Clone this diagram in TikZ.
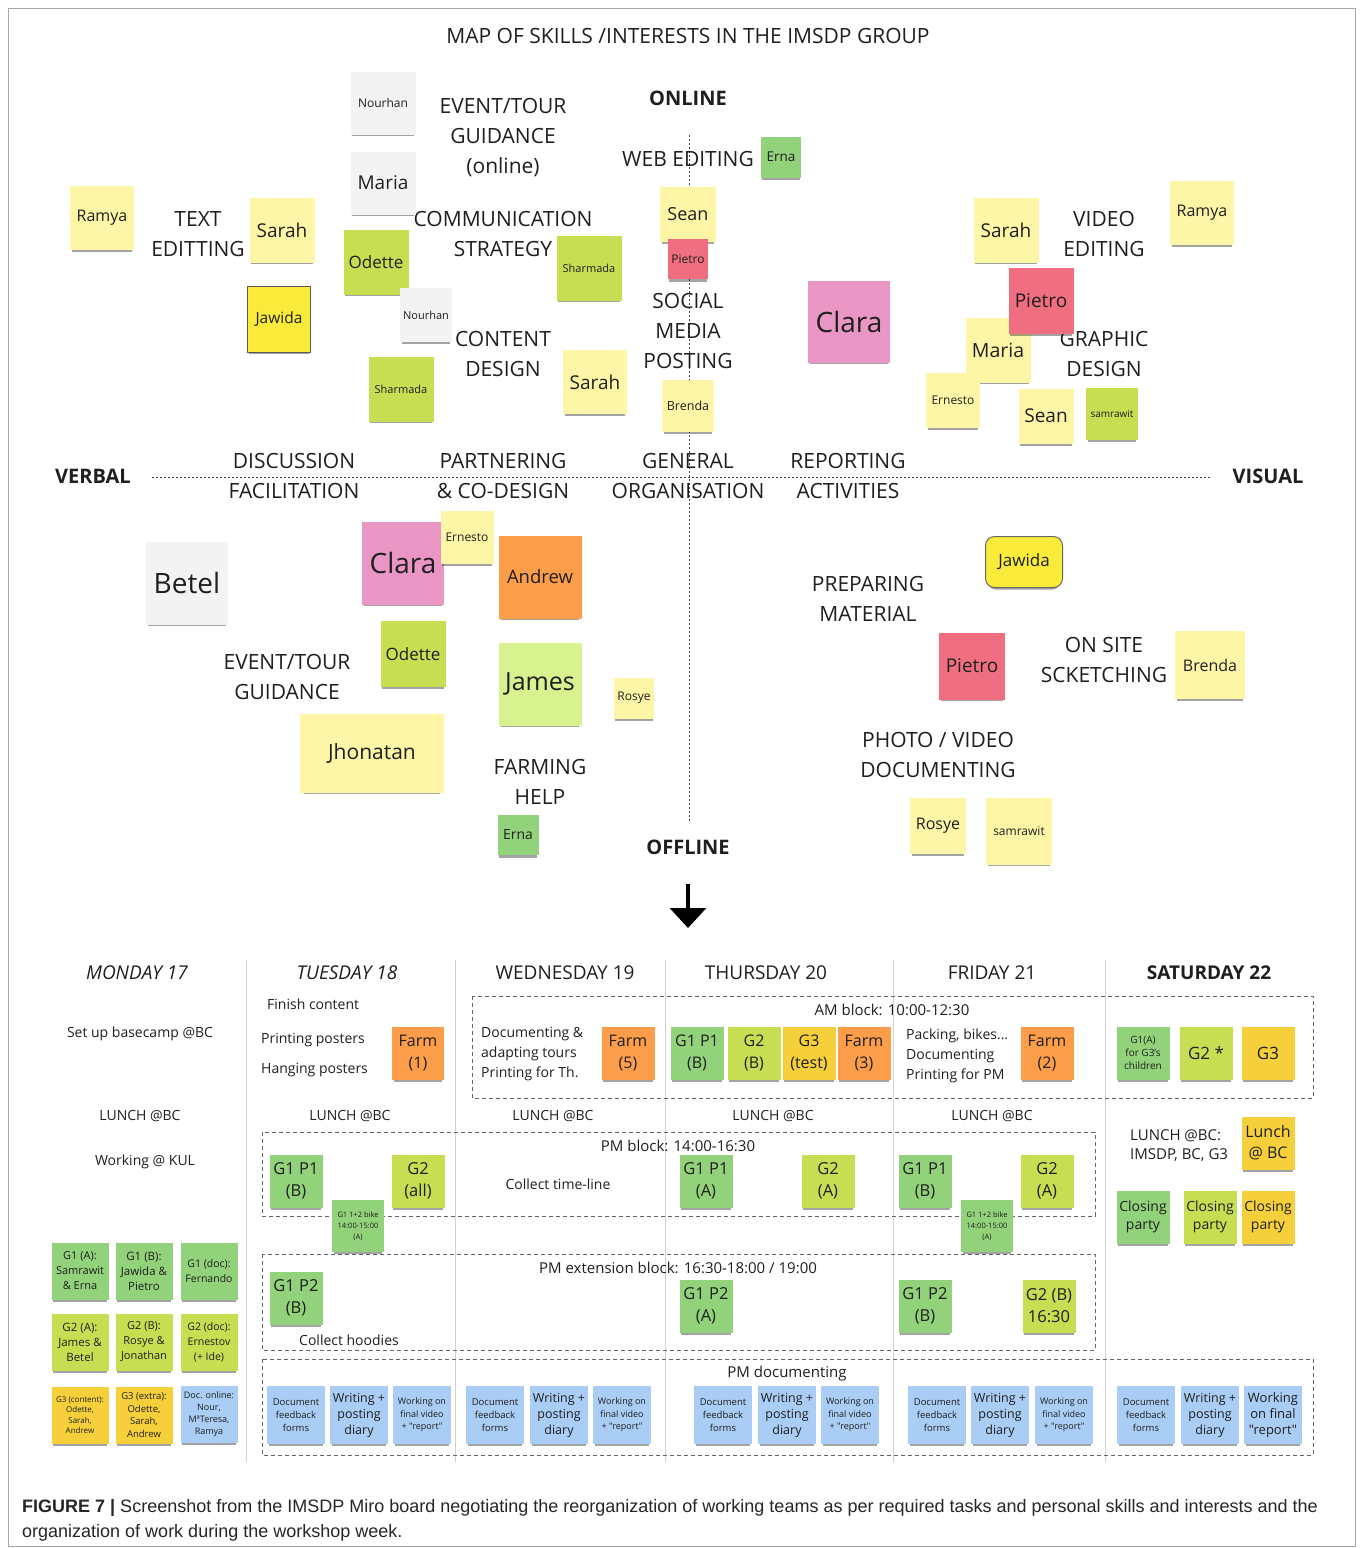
\documentclass[tikz,border=0pt]{standalone}
\usepackage{fontspec}
\setmainfont{Open Sans}
\newfontfamily\qfont{Open Sans}
\newfontfamily\capfont{Liberation Sans}
\usetikzlibrary{shadows,arrows.meta}
\definecolor{cY}{HTML}{FEF6A7}
\definecolor{cGy}{HTML}{F3F3F3}
\definecolor{cLm}{HTML}{C8DE52}
\definecolor{cGr}{HTML}{92D27A}
\definecolor{cRd}{HTML}{EF6F80}
\definecolor{cPk}{HTML}{E996C4}
\definecolor{cOr}{HTML}{FC9D4A}
\definecolor{cJm}{HTML}{D8F28F}
\definecolor{cBY}{HTML}{FAEB3A}
\definecolor{cSY}{HTML}{F6D03A}
\definecolor{cBl}{HTML}{A9CDF4}
\newcommand\fs[2]{\fontsize{#1}{#2}\selectfont}
\tikzset{
  stk/.style={rectangle, inner sep=1pt, align=center, text=black!88,
    drop shadow={shadow xshift=0pt,shadow yshift=-4pt,shadow scale=0.94,opacity=0.42,fill=black!85}},
  sq/.style={minimum width=#1, minimum height=#1},
  lbl/.style={align=center, inner sep=0pt, text=black!88},
  cat/.style={lbl, font=\fs{21}{30}},
  axisln/.style={draw=black!75, line width=1pt, dash pattern=on 2pt off 2pt},
  blk/.style={draw=black!60, line width=1pt, dash pattern=on 4pt off 3pt},
  sepln/.style={draw=black!18, line width=1pt},
  sch/.style={lbl, font=\fs{14}{20}},
}
\begin{document}
\begin{tikzpicture}[x=1pt,y=-1pt]
\fill[white] (0,0) rectangle (1362,1548);
\useasboundingbox (0,0) rectangle (1362,1548);
\draw[black!35, line width=1pt] (8,8) rectangle (1355,1546);

% title
\node[lbl, font=\fs{21}{25}] (title) at (688,36) {MAP OF SKILLS /INTERESTS IN THE IMSDP GROUP};

% axes
\draw[axisln] (152,477) -- (1210,477);
\draw[axisln] (689,135) -- (689,822);
\node[lbl, font=\bfseries\fs{20}{24}] (verbal) at (93,476) {VERBAL};
\node[lbl, font=\bfseries\fs{20}{24}] (visual) at (1268,476) {VISUAL};
\node[lbl, font=\bfseries\fs{20}{24}] (online) at (688,98) {ONLINE};
\node[lbl, font=\bfseries\fs{20}{24}] (offline) at (688,847) {OFFLINE};

% category labels
\node[cat] (textedit) at (198,234) {TEXT\\EDITTING};
\node[cat] (eventon) at (503,138) {EVENT/TOUR\\GUIDANCE\\(online)};
\node[cat] (comm) at (503,234) {COMMUNICATION\\STRATEGY};
\node[cat] (content) at (503,354) {CONTENT\\DESIGN};
\node[cat] (web) at (688,159) {WEB EDITING};
\node[cat] (social) at (688,331) {SOCIAL\\MEDIA\\POSTING};
\node[cat] (video) at (1104,234) {VIDEO\\EDITING};
\node[cat] (graphic) at (1104,354) {GRAPHIC\\DESIGN};
\node[cat] (discuss) at (294,476) {DISCUSSION\\FACILITATION};
\node[cat] (partner) at (503,476) {PARTNERING\\\& CO-DESIGN};
\node[cat] (general) at (688,476) {GENERAL\\ORGANISATION};
\node[cat] (report) at (848,476) {REPORTING\\ACTIVITIES};
\node[cat] (eventoff) at (287,677) {EVENT/TOUR\\GUIDANCE};
\node[cat] (farming) at (540,782) {FARMING\\HELP};
\node[cat] (prep) at (868,599) {PREPARING\\MATERIAL};
\node[cat] (onsite) at (1104,660) {ON SITE\\SCKETCHING};
\node[cat] (photo) at (938,755) {PHOTO / VIDEO\\DOCUMENTING};

% top-left stickies
\node[stk, fill=cGy, minimum width=65, minimum height=63, font=\fs{12}{14}] (s1) at (383,103) {Nourhan};
\node[stk, fill=cGy, minimum width=65, minimum height=63, font=\fs{19}{22}] (s2) at (383,183) {Maria};
\node[stk, fill=cY, sq=64, font=\fs{16}{19}] (s3) at (102,218) {Ramya};
\node[stk, fill=cY, sq=65, font=\fs{19}{22}] (s4) at (282,230) {Sarah};
\node[stk, fill=cLm, sq=65, font=\fs{17}{20}] (s5) at (376,262) {Odette};
\node[stk, fill=cBY, draw=black!65, line width=1pt, minimum width=63, minimum height=66, font=\fs{15.5}{18}] (s6) at (279,319) {Jawida};
\node[stk, fill=cGy, minimum width=52, minimum height=54, font=\fs{11}{13}] (s7) at (426,315) {Nourhan};
\node[stk, fill=cLm, sq=65, font=\fs{11}{13}] (s8) at (401,389) {Sharmada};
\node[stk, fill=cLm, sq=65, font=\fs{11}{13}] (s9) at (589,268) {Sharmada};
\node[stk, fill=cY, sq=64, font=\fs{19}{22}] (s10) at (595,382) {Sarah};
\node[stk, fill=cGr, minimum width=40, minimum height=41, font=\fs{13.5}{16}] (s11) at (781,157) {Erna};
\node[stk, fill=cY, minimum width=56, minimum height=55, font=\fs{18}{21}] (s12) at (688,214) {Sean};
\node[stk, fill=cRd, sq=40, font=\fs{12}{14}] (s13) at (688,259) {Pietro};
\node[stk, fill=cY, sq=52, font=\fs{12.5}{15}] (s14) at (688,406) {Brenda};
\node[stk, fill=cPk, sq=82, font=\fs{28}{32}] (s15) at (849,322) {Clara};

% top-right stickies
\node[stk, fill=cY, sq=65, font=\fs{19}{22}] (s16) at (1006,230) {Sarah};
\node[stk, fill=cY, sq=64, font=\fs{16}{19}] (s17) at (1202,213) {Ramya};
\node[stk, fill=cY, sq=65, font=\fs{19.5}{22}] (s19) at (998,350) {Maria};
\node[stk, fill=cRd, minimum width=65, minimum height=66, font=\fs{19}{22}] (s18) at (1041,301) {Pietro};
\node[stk, fill=cY, minimum width=54, minimum height=55, font=\fs{12}{14}] (s20) at (953,400) {Ernesto};
\node[stk, fill=cY, sq=55, font=\fs{19}{22}] (s21) at (1046,416) {Sean};
\node[stk, fill=cLm, sq=52, font=\fs{10}{12}] (s22) at (1112,414) {samrawit};

% bottom-left stickies
\node[stk, fill=cGy, minimum width=82, minimum height=83, font=\fs{28}{32}] (b1) at (187,583) {Betel};
\node[stk, fill=cPk, minimum width=82, minimum height=83, font=\fs{28}{32}] (b2) at (403,563) {Clara};
\node[stk, fill=cY, sq=53, font=\fs{12}{14}] (b3) at (467,537) {Ernesto};
\node[stk, fill=cOr, sq=83, font=\fs{18.5}{22}] (b4) at (540,577) {Andrew};
\node[stk, fill=cLm, minimum width=65, minimum height=66, font=\fs{17}{20}] (b5) at (413,654) {Odette};
\node[stk, fill=cJm, sq=83, font=\fs{25}{29}] (b6) at (540,684) {James};
\node[stk, fill=cY, minimum width=40, minimum height=41, font=\fs{12}{14}] (b7) at (634,698) {Rosye};
\node[stk, fill=cY, minimum width=144, minimum height=79, font=\fs{21}{25}] (b8) at (372,753) {Jhonatan};
\node[stk, fill=cGr, minimum width=41, minimum height=40, font=\fs{14}{16}] (b9) at (518,835) {Erna};

% bottom-right stickies
\node[stk, fill=cBY, draw=black!60, line width=1pt, rounded corners=9pt, minimum width=77, minimum height=51, font=\fs{17}{20}] (b10) at (1024,562) {Jawida};
\node[stk, fill=cRd, minimum width=66, minimum height=67, font=\fs{19}{22}] (b11) at (972,666) {Pietro};
\node[stk, fill=cY, minimum width=70, minimum height=68, font=\fs{16}{19}] (b12) at (1210,665) {Brenda};
\node[stk, fill=cY, sq=56, font=\fs{16}{19}] (b13) at (938,826) {Rosye};
\node[stk, fill=cY, minimum width=66, minimum height=67, font=\fs{12}{14}] (b14) at (1019,831) {samrawit};

% arrow
\coordinate (arrS) at (688,884);
\coordinate (arrE) at (688,928);
\draw[line width=3.5pt, -{Triangle[width=36pt,length=20pt]}] (arrS) -- (arrE);

% ===== schedule =====
\foreach \xx in {246,455,665,893,1105} \draw[sepln] (\xx,960) -- (\xx,1462);

\node[lbl, font=\itshape\fs{19}{23}] (d1) at (137,973) {MONDAY 17};
\node[lbl, font=\itshape\fs{19}{23}] (d2) at (347,973) {TUESDAY 18};
\node[lbl, font=\fs{19}{23}] (d3) at (565,973) {WEDNESDAY 19};
\node[lbl, font=\fs{19}{23}] (d4) at (766,973) {THURSDAY 20};
\node[lbl, font=\fs{19}{23}] (d5) at (992,973) {FRIDAY 21};
\node[lbl, font=\bfseries\fs{19}{23}] (d6) at (1209,973) {SATURDAY 22};

% block frames
\draw[blk] (472,996) rectangle (1313,1098);
\draw[blk] (262,1132) rectangle (1095,1216);
\draw[blk] (262,1254) rectangle (1095,1350);
\draw[blk] (262,1359) rectangle (1313,1455);
\node[lbl, font=\fs{15}{19}] (amb) at (892,1010) {AM block: 10:00-12:30};
\node[lbl, font=\fs{15}{19}] (pmb) at (678,1146) {PM block: 14:00-16:30};
\node[lbl, font=\fs{15}{19}] (pme) at (678,1268) {PM extension block: 16:30-18:00 / 19:00};
\node[lbl, font=\fs{15}{19}] (pmd) at (787,1374) {PM documenting};

% Monday
\node[sch] (m1) at (140,1034) {Set up basecamp @BC};
\node[sch] (m2) at (140,1116) {LUNCH @BC};
\node[sch] (m3) at (145,1162) {Working @ KUL};
\node[stk, fill=cGr, sq=57, font=\fs{11}{15}] (g1) at (80,1271) {G1 (A):\\Samrawit\\\& Erna};
\node[stk, fill=cGr, sq=57, font=\fs{11.5}{15}] (g2) at (144,1271) {G1 (B):\\Jawida \&\\Pietro};
\node[stk, fill=cGr, sq=57, font=\fs{10.5}{15}] (g3) at (209,1271) {G1 (doc):\\Fernando};
\node[stk, fill=cLm, sq=57, font=\fs{11.5}{15}] (g4) at (80,1342) {G2 (A):\\James \&\\Betel};
\node[stk, fill=cLm, sq=57, font=\fs{11}{15}] (g5) at (144,1342) {G2 (B):\\Rosye \&\\Jonathan};
\node[stk, fill=cLm, sq=57, font=\fs{10.5}{15}] (g6) at (209,1342) {G2 (doc):\\Ernestov\\(+ Ide)};
\node[stk, fill=cSY, sq=57, font=\fs{8}{10.5}] (g7) at (80,1415) {G3 (content):\\Odette,\\Sarah,\\Andrew};
\node[stk, fill=cSY, sq=57, font=\fs{9.5}{12.5}] (g8) at (144,1415) {G3 (extra):\\Odette,\\Sarah,\\Andrew};
\node[stk, fill=cBl, sq=57, font=\fs{9}{12}] (g9) at (209,1414) {Doc. online:\\Nour,\\MªTeresa,\\Ramya};

% Tuesday
\node[sch, anchor=west] (t1) at (267,1004) {Finish content};
\node[sch, anchor=west] (t2) at (261,1040) {Printing posters};
\node[sch, anchor=west] (t3) at (261,1070) {Hanging posters};
\node[stk, fill=cOr, minimum width=52, minimum height=53, font=\fs{16}{22}] (t4) at (418,1053) {Farm\\(1)};
\node[sch] (t5) at (350,1116) {LUNCH @BC};
\node[stk, fill=cGr, sq=53, font=\fs{16.5}{22}] (t6) at (296,1181) {G1 P1\\(B)};
\node[stk, fill=cLm, sq=53, font=\fs{16.5}{22}] (t7) at (418,1181) {G2\\(all)};
\node[stk, fill=cGr, sq=52, font=\fs{7.5}{11}] (t8) at (358,1226) {G1 1+2 bike\\14:00-15:00\\(A)};
\node[stk, fill=cGr, sq=53, font=\fs{16.5}{22}] (t9) at (296,1298) {G1 P2\\(B)};
\node[sch] (t10) at (349,1340) {Collect hoodies};

% Wednesday
\node[sch, anchor=west, align=left] (w1) at (481,1054) {Documenting \&\\adapting tours\\Printing for Th.};
\node[stk, fill=cOr, minimum width=53, minimum height=53, font=\fs{16}{22}] (w2) at (628,1053) {Farm\\(5)};
\node[sch] (w3) at (553,1116) {LUNCH @BC};
\node[sch] (w4) at (558,1184) {Collect time-line};

% Thursday
\node[stk, fill=cGr, sq=53, font=\fs{16}{22}] (h1) at (697,1053) {G1 P1\\(B)};
\node[stk, fill=cLm, sq=53, font=\fs{16}{22}] (h2) at (754,1053) {G2\\(B)};
\node[stk, fill=cSY, sq=53, font=\fs{16}{22}] (h3) at (809,1053) {G3\\(test)};
\node[stk, fill=cOr, sq=53, font=\fs{16}{22}] (h4) at (864,1053) {Farm\\(3)};
\node[sch] (h5) at (773,1116) {LUNCH @BC};
\node[stk, fill=cGr, sq=53, font=\fs{16.5}{22}] (h6) at (706,1181) {G1 P1\\(A)};
\node[stk, fill=cLm, sq=53, font=\fs{16.5}{22}] (h7) at (828,1181) {G2\\(A)};
\node[stk, fill=cGr, sq=53, font=\fs{16.5}{22}] (h8) at (706,1306) {G1 P2\\(A)};

% Friday
\node[sch, anchor=west, align=left] (f1) at (906,1056) {Packing, bikes...\\Documenting\\Printing for PM};
\node[stk, fill=cOr, sq=53, font=\fs{16}{22}] (f2) at (1047,1053) {Farm\\(2)};
\node[sch] (f3) at (992,1116) {LUNCH @BC};
\node[stk, fill=cGr, sq=53, font=\fs{16.5}{22}] (f4) at (925,1181) {G1 P1\\(B)};
\node[stk, fill=cLm, sq=53, font=\fs{16.5}{22}] (f5) at (1047,1181) {G2\\(A)};
\node[stk, fill=cGr, sq=52, font=\fs{7.5}{11}] (f6) at (987,1226) {G1 1+2 bike\\14:00-15:00\\(A)};
\node[stk, fill=cGr, sq=53, font=\fs{16.5}{22}] (f7) at (925,1306) {G1 P2\\(B)};
\node[stk, fill=cLm, sq=53, font=\fs{16.5}{22}] (f8) at (1049,1306) {G2 (B)\\16:30};

% Saturday
\node[stk, fill=cGr, sq=53, font=\fs{10}{13}] (a1) at (1143,1053) {G1(A)\\for G3's\\children};
\node[stk, fill=cLm, sq=53, font=\fs{17}{20}] (a2) at (1206,1053) {G2 *};
\node[stk, fill=cSY, sq=53, font=\fs{17}{20}] (a3) at (1268,1053) {G3};
\node[lbl, anchor=west, align=left, font=\fs{15}{19}] (a4) at (1130,1146) {LUNCH @BC:\\IMSDP, BC, G3};
\node[stk, fill=cSY, sq=53, font=\fs{16}{21}] (a5) at (1268,1143) {Lunch\\@ BC};
\node[stk, fill=cGr, sq=53, font=\fs{14}{18}] (a6) at (1143,1217) {Closing\\party};
\node[stk, fill=cLm, sq=53, font=\fs{14}{18}] (a7) at (1210,1217) {Closing\\party};
\node[stk, fill=cSY, sq=53, font=\fs{14}{18}] (a8) at (1268,1217) {Closing\\party};

% PM documenting blue stickies
\foreach \cx/\nm in {296/tu,495/we,723/th,937/fr} {
  \node[stk, fill=cBl, sq=58, font=\fs{9.5}{13}] (doc\nm) at (\cx,1415) {Document\\feedback\\forms};
}
\foreach \cx/\nm in {359/tu,559/we,787/th,1000/fr,1210/sa} {
  \node[stk, fill=cBl, sq=58, font=\fs{12.5}{16}] (wri\nm) at (\cx,1415) {Writing +\\posting\\diary};
}
\foreach \cx/\nm in {422/tu,622/we,850/th,1064/fr} {
  \node[stk, fill=cBl, sq=58, font=\qfont\fs{9}{12.5}] (vid\nm) at (\cx,1415) {Working on\\final video\\+ "report"};
}
\node[stk, fill=cBl, sq=58, font=\fs{9.5}{13}] (docsa) at (1146,1415) {Document\\feedback\\forms};
\node[stk, fill=cBl, minimum width=58, minimum height=58, font=\qfont\fs{13}{16}] (vidsa) at (1273,1415) {Working\\on final\\"report"};

% caption
\node[anchor=base west, inner sep=0, font=\capfont\fs{18}{22}, text=black!85] (cap1) at (22,1512) {\textbf{FIGURE 7 |} Screenshot from the IMSDP Miro board negotiating the reorganization of working teams as per required tasks and personal skills and interests and the};
\node[anchor=base west, inner sep=0, font=\capfont\fs{18}{22}, text=black!85] (cap2) at (22,1537) {organization of work during the workshop week.};
\end{tikzpicture}
\end{document}
